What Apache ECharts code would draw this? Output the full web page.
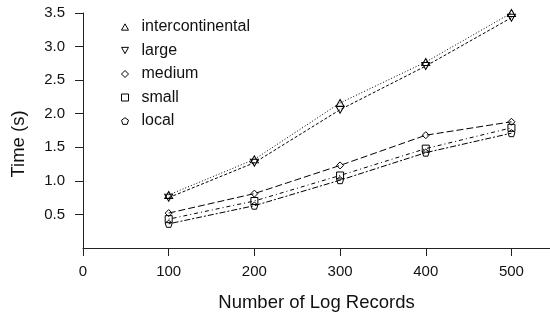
<!DOCTYPE html>
<html lang="en">
<head>
    <meta charset="UTF-8">
    <title>Time vs Log Records</title>
    <script src="https://cdn.jsdelivr.net/npm/echarts@6/dist/echarts.min.js"></script>
    <style>
        html, body { margin: 0; padding: 0; background: #fff; }
        #chart { width: 550px; height: 314px; }
    </style>
</head>
<body>
    <div id="chart"></div>
    <script>
        // data
        var records = [100, 200, 300, 400, 500];
        var seriesNames = ['intercontinental', 'large', 'medium', 'small', 'local'];
        var intercontinental = [0.79, 1.32, 2.16, 2.77, 3.50];
        var large = [0.75, 1.27, 2.06, 2.71, 3.43];
        var medium = [0.52, 0.81, 1.23, 1.68, 1.88];
        var small = [0.43, 0.70, 1.08, 1.48, 1.79];
        var local = [0.36, 0.63, 1.01, 1.42, 1.71];
        var xTicks = [0, 100, 200, 300, 400, 500];
        var yTicks = [0.5, 1.0, 1.5, 2.0, 2.5, 3.0, 3.5];

        var font = "'Liberation Sans', Arial, Helvetica, sans-serif";
        var triDown = 'path://M0,0 L10,0 L5,9 Z';
        var triUp = 'path://M5,0 L10,9 L0,9 Z';
        var pentagon = 'path://M5,0 L9.76,3.45 L7.94,9.05 L2.06,9.05 L0.24,3.45 Z';
        var symbols = [triUp, triDown, 'diamond', 'rect', pentagon];
        var dashes = [[1, 2], [3, 2], [7, 3], [1, 3, 4, 3], [2, 2, 6, 2]];
        var values = [intercontinental, large, medium, small, local];

        var series = [];
        for (var i = 0; i < seriesNames.length; i++) {
            var pts = [];
            for (var j = 0; j < records.length; j++) {
                pts.push([records[j], values[i][j]]);
            }
            series.push({
                name: seriesNames[i],
                type: 'line',
                data: pts,
                symbol: symbols[i],
                symbolSize: i < 2 ? [8, 7] : 7,
                showAllSymbol: true,
                itemStyle: { color: 'transparent', borderColor: '#000', borderWidth: 1 },
                lineStyle: { color: '#000', width: 1, type: dashes[i] },
                emphasis: { disabled: true }
            });
        }

        var legendData = [];
        for (var k = 0; k < seriesNames.length; k++) {
            legendData.push({ name: seriesNames[k], icon: symbols[k] });
        }

        var myChart = echarts.init(document.getElementById('chart'));
        var option = {
            animation: false,
            textStyle: { fontFamily: font },
            grid: { left: 83, right: 0, top: 13, bottom: 66, outerBoundsMode: 'none', containLabel: false },
            legend: {
                orient: 'vertical',
                left: 116,
                top: 14,
                itemWidth: 7,
                itemHeight: 7,
                itemGap: 7.5,
                data: legendData,
                itemStyle: { color: 'transparent', borderColor: '#000', borderWidth: 1 },
                textStyle: { fontFamily: font, fontSize: 16, color: '#111', padding: [0, 0, 0, 8] }
            },
            xAxis: {
                type: 'value',
                min: 0,
                max: 545,
                name: 'Number of Log Records',
                nameLocation: 'middle',
                nameGap: 45,
                nameTextStyle: { fontFamily: font, fontSize: 18.5, color: '#111' },
                axisLine: { show: true, onZero: false, lineStyle: { color: '#222', width: 1 } },
                axisTick: { show: true, length: 8, customValues: xTicks, lineStyle: { color: '#222' } },
                axisLabel: { customValues: xTicks, margin: 16, fontSize: 15, color: '#111', fontFamily: font },
                splitLine: { show: false }
            },
            yAxis: {
                type: 'value',
                min: 0,
                max: 3.5,
                name: 'Time (s)',
                nameLocation: 'middle',
                nameGap: 55,
                nameTextStyle: { fontFamily: font, fontSize: 18.5, color: '#111', padding: [0, 27, 0, 0] },
                axisLine: { show: true, onZero: false, lineStyle: { color: '#222', width: 1 } },
                axisTick: { show: true, length: 8, customValues: yTicks, lineStyle: { color: '#222' } },
                axisLabel: {
                    customValues: yTicks,
                    margin: 18,
                    fontSize: 15,
                    color: '#111',
                    fontFamily: font,
                    formatter: function (v) { return v.toFixed(1); }
                },
                splitLine: { show: false }
            },
            series: series
        };
        myChart.setOption(option);
    </script>
</body>
</html>
